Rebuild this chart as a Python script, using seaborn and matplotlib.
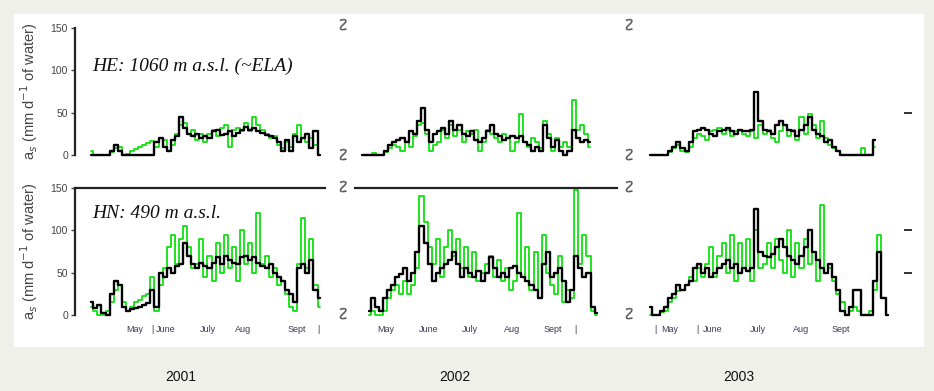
import numpy as np
import matplotlib
matplotlib.use("Agg")
import matplotlib.pyplot as plt
from matplotlib.patches import Rectangle
import seaborn as sns

sns.set_theme(style="white")
plt.rcParams["font.family"] = ["Liberation Sans", "DejaVu Sans"]

# ---- data: daily-ish values read every 3 days (mm d-1 of water) ----
STEP = 3
# 2001
he01_start = 108
he01_model = [0, 0, 0, 0, 0, 5, 12, 5, 0, 0, 0, 0, 0, 0, 0, 0, 15, 20, 10, 5, 18, 22, 45, 32, 25, 22, 25, 20, 22,
              20, 28, 30, 24, 25, 28, 22, 26, 30, 33, 30, 32, 28, 26, 24, 22, 20, 15, 5, 18, 5, 22, 15, 20, 25,
              8, 28, 0]
he01_obs = [5, 0, 0, 0, 0, 3, 8, 10, 0, 1, 5, 7, 10, 12, 14, 17, 10, 20, 18, 5, 12, 25, 35, 38, 25, 30, 18, 25, 15,
            25, 30, 22, 32, 35, 10, 30, 32, 28, 38, 28, 45, 35, 30, 25, 20, 22, 12, 8, 15, 10, 25, 35, 20, 15,
            20, 12, 0]
hn01_start = 108
hn01_model = [15, 8, 12, 2, 0, 25, 40, 35, 10, 5, 7, 8, 10, 12, 14, 30, 10, 50, 45, 55, 50, 58, 60, 85, 70, 60,
              55, 62, 58, 55, 62, 68, 60, 70, 65, 62, 60, 68, 70, 65, 68, 62, 58, 55, 60, 50, 45, 40, 30, 25,
              15, 55, 60, 50, 65, 30, 20]
hn01_obs = [10, 5, 0, 0, 5, 15, 30, 35, 15, 5, 10, 15, 18, 22, 25, 45, 5, 35, 55, 80, 95, 60, 90, 105, 80, 55,
            60, 90, 45, 70, 40, 85, 50, 95, 55, 80, 40, 100, 60, 85, 50, 120, 60, 70, 45, 55, 35, 40, 25, 10,
            5, 60, 115, 55, 90, 35, 10]
# 2002
he02_start = 117
he02_model = [0, 0, 0, 0, 0, 0, 5, 12, 15, 18, 20, 15, 28, 25, 40, 55, 30, 15, 25, 28, 32, 25, 40, 30, 35, 25,
              22, 28, 18, 15, 20, 28, 35, 25, 22, 18, 20, 22, 20, 22, 15, 12, 5, 10, 5, 35, 20, 10, 18, 5, 0,
              5, 30, 20, 15, 18, 15]
he02_obs = [0, 0, 0, 2, 0, 0, 3, 8, 12, 10, 5, 15, 10, 22, 35, 38, 25, 5, 12, 15, 30, 20, 35, 22, 30, 15, 28,
            25, 30, 5, 15, 30, 25, 20, 15, 25, 20, 5, 15, 48, 15, 10, 20, 15, 8, 40, 25, 5, 20, 10, 15, 10, 65,
            30, 35, 25, 10]
hn02_start = 122
hn02_model = [5, 20, 10, 5, 20, 30, 35, 45, 48, 55, 40, 50, 75, 105, 85, 60, 40, 50, 55, 60, 65, 75, 60, 45,
              55, 50, 45, 52, 40, 50, 68, 55, 45, 50, 45, 55, 58, 50, 45, 40, 35, 30, 20, 60, 75, 45, 50, 55,
              40, 15, 30, 70, 55, 45, 50, 10, 2]
hn02_obs = [0, 5, 0, 0, 5, 20, 30, 35, 25, 40, 25, 35, 55, 140, 110, 80, 60, 90, 45, 80, 100, 70, 90, 55, 80,
            45, 75, 40, 50, 60, 70, 45, 65, 40, 55, 30, 40, 120, 45, 80, 30, 75, 20, 95, 50, 35, 25, 70, 15,
            30, 20, 148, 60, 95, 70, 5, 0]
# 2003
he03_start = 117
he03_model = [0, 0, 0, 0, 0, 5, 10, 15, 8, 5, 15, 28, 30, 32, 30, 25, 22, 28, 30, 32, 28, 25, 30, 28, 28, 30,
              75, 40, 30, 28, 25, 35, 40, 35, 30, 28, 22, 30, 35, 45, 30, 25, 22, 15, 18, 10, 5, 0, 0, 0, 0,
              0, 0, 0, 0, 18]
he03_obs = [0, 0, 0, 0, 0, 3, 8, 12, 5, 3, 10, 20, 25, 22, 18, 28, 30, 32, 25, 30, 22, 28, 30, 25, 22, 28, 20,
            35, 25, 30, 20, 15, 28, 35, 22, 30, 18, 45, 25, 48, 35, 20, 40, 20, 12, 8, 5, 0, 0, 0, 0, 0, 8, 0,
            0, 10]
hn03_start = 117
hn03_model = [10, 0, 0, 5, 10, 20, 25, 35, 30, 35, 40, 55, 60, 50, 55, 45, 50, 55, 60, 65, 55, 60, 50, 55, 52,
              55, 125, 75, 70, 68, 72, 80, 90, 80, 70, 65, 60, 70, 80, 100, 75, 65, 55, 50, 60, 45, 30, 5, 0,
              10, 30, 30, 0, 0, 0, 40, 75, 20, 0]
hn03_obs = [0, 0, 0, 3, 5, 15, 20, 28, 30, 35, 45, 40, 55, 45, 60, 80, 45, 70, 85, 50, 95, 40, 85, 55, 90, 40,
            100, 55, 60, 85, 55, 90, 65, 50, 100, 45, 85, 55, 90, 60, 75, 40, 130, 50, 55, 40, 25, 15, 0, 5,
            10, 5, 0, 0, 5, 30, 95, 20, 0]

years = ["2001", "2002", "2003"]
site_labels = ["HE: 1060 m a.s.l. (~ELA)", "HN: 490 m a.s.l."]
ylabel = "a$_s$ (mm d$^{-1}$ of water)"
month_ticks = [
    ([140, 153, 163, 194, 220, 259, 275], ["May", "|", "June", "July", "Aug", "Sept", "|"]),
    ([135, 166, 197, 228, 258, 274], ["May", "June", "July", "Aug", "Sept", "|"]),
    ([121, 132, 152, 163, 196, 228, 257], ["|", "May", "|", "June", "July", "Aug", "Sept"]),
]
xlims = [(96, 280), (112, 305), (115, 303)]

panels = {
    (0, 0): (he01_start, he01_model, he01_obs), (1, 0): (hn01_start, hn01_model, hn01_obs),
    (0, 1): (he02_start, he02_model, he02_obs), (1, 1): (hn02_start, hn02_model, hn02_obs),
    (0, 2): (he03_start, he03_model, he03_obs), (1, 2): (hn03_start, hn03_model, hn03_obs),
}

W, H = 934, 391
fig = plt.figure(figsize=(W / 100, H / 100), dpi=100, facecolor="#f0f0eb")
fig.patches.append(Rectangle((14 / W, 1 - 347 / H), 910 / W, 333 / H, transform=fig.transFigure,
                             facecolor="white", edgecolor="none", zorder=-10))

col_px = [(75, 325), (355, 617), (647, 904)]
row_px = [(28, 155), (188, 315)]
GREEN = "#10e010"

for (r, c), (start, model, obs) in panels.items():
    x0, x1 = col_px[c]
    y0, y1 = row_px[r]
    ax = fig.add_axes([x0 / W, 1 - y1 / H, (x1 - x0) / W, (y1 - y0) / H])
    ax.patch.set_alpha(0)
    days_o = start + STEP * np.arange(len(obs))
    days_m = start + STEP * np.arange(len(model))
    sns.lineplot(x=days_o, y=obs, ax=ax, color=GREEN, lw=1.3, drawstyle="steps-mid",
                 estimator=None, clip_on=False)
    sns.lineplot(x=days_m, y=model, ax=ax, color="black", lw=1.7, drawstyle="steps-mid",
                 estimator=None, clip_on=False)
    ax.set_xlim(*xlims[c])
    ax.set_ylim(0, 150)
    for s in ax.spines.values():
        s.set_visible(False)
    ax.set_xlabel("")
    ax.set_ylabel("")
    if r == 1 and c < 2:
        ax.spines["top"].set_visible(True)
        ax.spines["top"].set_color("#222222")
        ax.spines["top"].set_linewidth(1.6)
    if c == 0:
        ax.spines["left"].set_visible(True)
        ax.spines["left"].set_color("#222222")
        ax.spines["left"].set_linewidth(1.6)
        ax.set_yticks([0, 50, 100, 150])
        ax.set_yticklabels(["0", "50", "100", "150"])
        ax.tick_params(axis="y", direction="out", length=3, width=1, colors="#444444",
                       labelsize=7.5, pad=2, left=True)
        ax.text(0.07, 0.70 if r == 0 else 0.80, site_labels[r], transform=ax.transAxes,
                family=["Liberation Serif", "DejaVu Serif"], style="italic", fontsize=14,
                ha="left", va="center", color="#111111")
        ax.set_ylabel(ylabel, fontsize=10.5, color="#444444")
        ax.yaxis.set_label_coords(-0.14, 0.5)
    elif c == 2:
        ax.yaxis.tick_right()
        ax.set_yticks([50] if r == 0 else [50, 100])
        ax.set_yticklabels([])
        ax.tick_params(axis="y", direction="out", length=6, width=1.3, colors="#222222", right=True)
    else:
        ax.set_yticks([])
    if r == 1:
        ticks, labels = month_ticks[c]
        ax.set_xticks(ticks)
        ax.set_xticklabels(labels)
        ax.tick_params(axis="x", length=0, labelsize=6.5, labelcolor="#3a3a55", pad=7)
    else:
        ax.set_xticks([])

# axis-break marks between the year panels
for xb in [341, 627]:
    for yb in [26, 156, 188, 315]:
        fig.text(xb / W, 1 - yb / H, "\u223f", rotation=-62, fontsize=14, color="#555555",
                 ha="center", va="center", family="DejaVu Sans")

for xy, yr in zip([181, 455, 739], years):
    fig.text(xy / W, 1 - 377 / H, yr, ha="center", va="center", fontsize=10, color="#111111")

fig.savefig("out.png", dpi=100, facecolor=fig.get_facecolor())
